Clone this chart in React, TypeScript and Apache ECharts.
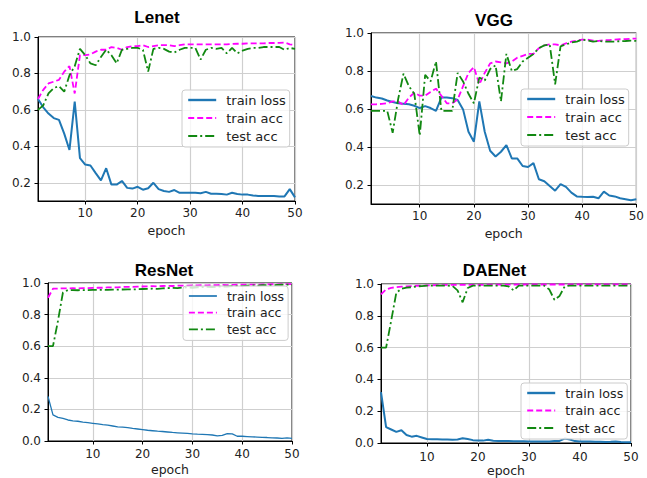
import React, { useEffect, useRef } from "react";
import * as echarts from "echarts";

const epochs = [1,2,3,4,5,6,7,8,9,10,11,12,13,14,15,16,17,18,19,20,21,22,23,24,25,26,27,28,29,30,31,32,33,34,35,36,37,38,39,40,41,42,43,44,45,46,47,48,49,50];

const lenetLoss = [0.66,0.614,0.58,0.555,0.545,0.47,0.38,0.645,0.335,0.30,0.295,0.253,0.213,0.28,0.19,0.19,0.21,0.172,0.168,0.178,0.162,0.17,0.20,0.165,0.155,0.15,0.16,0.145,0.145,0.145,0.145,0.143,0.15,0.14,0.14,0.138,0.135,0.145,0.138,0.135,0.135,0.13,0.128,0.128,0.128,0.128,0.125,0.125,0.165,0.12];
const lenetTrainAcc = [0.66,0.71,0.745,0.755,0.765,0.81,0.84,0.69,0.90,0.90,0.905,0.92,0.93,0.93,0.945,0.94,0.93,0.945,0.95,0.95,0.955,0.945,0.95,0.955,0.955,0.955,0.95,0.955,0.96,0.96,0.96,0.96,0.96,0.96,0.96,0.96,0.96,0.962,0.963,0.963,0.965,0.965,0.965,0.965,0.967,0.967,0.968,0.97,0.96,0.955];
const lenetTestAcc = [0.60,0.625,0.69,0.72,0.73,0.70,0.79,0.84,0.935,0.90,0.855,0.845,0.89,0.93,0.90,0.855,0.93,0.935,0.94,0.94,0.93,0.81,0.935,0.94,0.935,0.92,0.915,0.93,0.94,0.94,0.94,0.876,0.93,0.94,0.935,0.94,0.91,0.94,0.91,0.925,0.935,0.94,0.94,0.945,0.945,0.945,0.945,0.93,0.94,0.935];

const vggLoss = [0.668,0.66,0.655,0.645,0.637,0.63,0.628,0.625,0.617,0.605,0.615,0.605,0.59,0.66,0.66,0.657,0.648,0.598,0.48,0.428,0.64,0.48,0.38,0.35,0.375,0.41,0.34,0.34,0.30,0.295,0.315,0.23,0.22,0.195,0.17,0.205,0.19,0.16,0.14,0.138,0.137,0.138,0.13,0.165,0.145,0.14,0.13,0.125,0.12,0.125];
const vggTrainAcc = [0.624,0.625,0.627,0.63,0.64,0.64,0.62,0.66,0.686,0.67,0.67,0.69,0.707,0.67,0.63,0.63,0.65,0.72,0.79,0.82,0.73,0.79,0.84,0.85,0.845,0.84,0.85,0.87,0.88,0.89,0.89,0.92,0.935,0.94,0.94,0.935,0.945,0.955,0.96,0.965,0.965,0.96,0.958,0.962,0.962,0.965,0.967,0.968,0.97,0.97];
const vggTestAcc = [0.59,0.59,0.59,0.59,0.475,0.65,0.786,0.72,0.68,0.46,0.78,0.745,0.85,0.59,0.59,0.59,0.79,0.745,0.68,0.63,0.765,0.75,0.81,0.83,0.64,0.89,0.80,0.81,0.85,0.87,0.89,0.92,0.935,0.94,0.73,0.93,0.94,0.95,0.955,0.965,0.96,0.955,0.958,0.955,0.955,0.955,0.957,0.958,0.96,0.958];

const resnetLoss = [0.282,0.165,0.15,0.143,0.133,0.128,0.125,0.12,0.116,0.112,0.108,0.103,0.1,0.095,0.09,0.088,0.085,0.08,0.076,0.072,0.068,0.065,0.062,0.06,0.057,0.054,0.052,0.05,0.048,0.045,0.043,0.042,0.04,0.038,0.033,0.035,0.047,0.045,0.03,0.03,0.028,0.026,0.025,0.023,0.022,0.02,0.019,0.017,0.02,0.016];
const resnetTrainAcc = [0.907,0.964,0.965,0.966,0.966,0.967,0.966,0.968,0.968,0.969,0.97,0.97,0.972,0.973,0.972,0.975,0.976,0.975,0.977,0.978,0.979,0.98,0.979,0.981,0.982,0.981,0.983,0.984,0.983,0.985,0.985,0.986,0.985,0.987,0.987,0.988,0.987,0.988,0.989,0.989,0.99,0.99,0.989,0.991,0.991,0.992,0.991,0.992,0.993,0.993];
const resnetTestAcc = [0.60,0.60,0.76,0.94,0.955,0.955,0.954,0.955,0.955,0.956,0.956,0.957,0.956,0.958,0.958,0.959,0.96,0.959,0.961,0.962,0.963,0.964,0.963,0.966,0.968,0.969,0.968,0.971,0.972,0.97,0.973,0.974,0.975,0.974,0.977,0.978,0.977,0.98,0.981,0.98,0.984,0.985,0.983,0.986,0.987,0.986,0.988,0.989,0.99,0.99];

const daeLoss = [0.32,0.10,0.085,0.07,0.08,0.05,0.04,0.045,0.035,0.025,0.024,0.023,0.022,0.022,0.02,0.022,0.03,0.025,0.018,0.015,0.015,0.02,0.014,0.013,0.012,0.012,0.011,0.011,0.011,0.01,0.01,0.01,0.01,0.01,0.012,0.013,0.028,0.022,0.012,0.01,0.01,0.009,0.008,0.008,0.007,0.008,0.01,0.006,0.005,0.004];
const daeTrainAcc = [0.935,0.966,0.976,0.98,0.983,0.985,0.987,0.989,0.99,0.991,0.992,0.993,0.993,0.994,0.994,0.994,0.995,0.995,0.995,0.995,0.995,0.996,0.996,0.996,0.996,0.996,0.996,0.997,0.997,0.997,0.997,0.997,0.997,0.997,0.997,0.997,0.997,0.998,0.998,0.998,0.998,0.998,0.998,0.998,0.998,0.998,0.998,0.998,0.998,0.998];
const daeTestAcc = [0.60,0.60,0.77,0.945,0.97,0.977,0.98,0.985,0.987,0.99,0.99,0.99,0.99,0.99,0.988,0.96,0.885,0.975,0.99,0.99,0.99,0.99,0.99,0.99,0.99,0.985,0.96,0.99,0.99,0.99,0.99,0.99,0.99,0.965,0.90,0.925,0.985,0.99,0.99,0.99,0.99,0.99,0.99,0.99,0.99,0.99,0.99,0.99,0.99,0.99];

const xTicks = [10, 20, 30, 40, 50];
const yTicks = [0.2, 0.4, 0.6, 0.8, 1.0];
const yTicksZero = [0.0, 0.2, 0.4, 0.6, 0.8, 1.0];
const seriesNames = ["train loss", "train acc", "test acc"];

const titles = ["Lenet", "VGG", "ResNet", "DAENet"];
const panelData = [
  [lenetLoss, lenetTrainAcc, lenetTestAcc],
  [vggLoss, vggTrainAcc, vggTestAcc],
  [resnetLoss, resnetTrainAcc, resnetTestAcc],
  [daeLoss, daeTrainAcc, daeTestAcc],
];

const BLUE = "#1f77b4";
const MAGENTA = "#ff00ff";
const GREEN = "#118811";

const panels = [
  { grid: { left: 38, top: 37, width: 257, height: 164 }, yMin: 0.1, yTicks, title: [157, 17.4],
    legend: { left: 182, top: 90, gap: 4, font: 13 }, lossW: 2, labelGap: 6, nameGap: 23 },
  { grid: { left: 371, top: 33, width: 267, height: 171 }, yMin: 0.1, yTicks, title: [494, 20.1],
    legend: { left: 521, top: 89, gap: 4, font: 13 }, lossW: 2, labelGap: 6, nameGap: 23 },
  { grid: { left: 48, top: 283, width: 244, height: 158 }, yMin: 0, yTicks: yTicksZero, title: [164, 270.1],
    legend: { left: 183, top: 286, gap: 2.7, font: 12.5 }, lossW: 1.3, labelGap: 7, nameGap: 22 },
  { grid: { left: 381, top: 284, width: 250, height: 160 }, yMin: 0, yTicks: yTicksZero, title: [494.5, 270.8],
    legend: { left: 521, top: 383, gap: 3.5, font: 12.7 }, lossW: 2, labelGap: 8, nameGap: 21 },
];

const tickFont = { fontFamily: "DejaVu Sans", fontSize: 12, color: "#222" };

export default function App() {
  const ref = useRef<HTMLDivElement>(null);
  useEffect(() => {
    if (!ref.current) return;
    const chart = echarts.init(ref.current, null, { renderer: "svg" });
    const grid: any[] = [];
    const xAxis: any[] = [];
    const yAxis: any[] = [];
    const series: any[] = [];
    const legend: any[] = [];
    const graphic: any[] = [];
    panels.forEach((p, i) => {
      grid.push({ ...p.grid, show: true, borderColor: "#000", borderWidth: 1, backgroundColor: "transparent" });
      xAxis.push({
        type: "value", gridIndex: i, min: 1, max: 50,
        name: "epoch", nameLocation: "middle", nameGap: p.nameGap,
        nameTextStyle: { fontFamily: "DejaVu Sans", fontSize: 12.5, color: "#222" },
        axisLine: { show: true, lineStyle: { color: "#000", width: 1 } },
        axisTick: { show: true, length: 3.5, customValues: xTicks, lineStyle: { color: "#000" } },
        axisLabel: { ...tickFont, margin: p.labelGap, customValues: xTicks, formatter: (v: number) => String(v) },
        splitLine: { show: true, lineStyle: { color: "#cfcfcf", width: 1.2 } },
      });
      yAxis.push({
        type: "value", gridIndex: i, min: p.yMin, max: 1.0,
        axisLine: { show: true, lineStyle: { color: "#000", width: 1 } },
        axisTick: { show: true, length: 3.5, customValues: p.yTicks, lineStyle: { color: "#000" } },
        axisLabel: { ...tickFont, margin: 7, customValues: p.yTicks, formatter: (v: number) => v.toFixed(1) },
        splitLine: { show: true, lineStyle: { color: "#cfcfcf", width: 1.2 } },
      });
      const [loss, tra, tea] = panelData[i];
      const mk = (arr: number[]) => epochs.map((e, k) => [e, arr[k]]);
      series.push({
        type: "line", name: seriesNames[0], xAxisIndex: i, yAxisIndex: i, data: mk(loss),
        symbol: "none", showSymbol: false, itemStyle: { color: BLUE },
        lineStyle: { color: BLUE, width: p.lossW, type: "solid" },
      });
      series.push({
        type: "line", name: seriesNames[1], xAxisIndex: i, yAxisIndex: i, data: mk(tra),
        symbol: "none", showSymbol: false, itemStyle: { color: MAGENTA },
        lineStyle: { color: MAGENTA, width: 1.8, type: [6, 3] },
      });
      series.push({
        type: "line", name: seriesNames[2], xAxisIndex: i, yAxisIndex: i, data: mk(tea),
        symbol: "none", showSymbol: false, itemStyle: { color: GREEN },
        lineStyle: { color: GREEN, width: 1.8, type: [9, 3, 2, 3] },
      });
      legend.push({
        orient: "vertical", left: p.legend.left, top: p.legend.top,
        itemWidth: 28, itemHeight: 14, itemGap: p.legend.gap,
        padding: [3, 4, 4, 5],
        backgroundColor: "rgba(255,255,255,0.8)", borderColor: "#cccccc", borderWidth: 1, borderRadius: 3,
        selectedMode: false,
        itemStyle: { opacity: 0 },
        textStyle: { fontFamily: "DejaVu Sans", fontSize: p.legend.font, color: "#222", lineHeight: 14, padding: [0, 0, 0, 5] },
        data: [
          { name: seriesNames[0], itemStyle: { opacity: 0 }, lineStyle: { width: p.lossW + 0.4, color: BLUE, type: "solid", opacity: 1 } },
          { name: seriesNames[1], itemStyle: { opacity: 0 }, lineStyle: { width: 1.8, color: MAGENTA, type: [6, 3], opacity: 1 } },
          { name: seriesNames[2], itemStyle: { opacity: 0 }, lineStyle: { width: 1.8, color: GREEN, type: [9, 3, 2, 3], opacity: 1 } },
        ],
      });
      graphic.push({
        type: "text", x: p.title[0], y: p.title[1],
        style: { text: titles[i], align: "center", verticalAlign: "middle", font: "bold 17px 'Liberation Sans', Arial, sans-serif", fill: "#000" },
      });
    });
    chart.setOption({
      animation: false,
      backgroundColor: "#fff",
      grid, xAxis, yAxis, series, legend, graphic,
    });
    return () => chart.dispose();
  }, []);
  return <div ref={ref} style={{ position: "fixed", left: 0, top: 0, width: 647, height: 478 }} />;
}
